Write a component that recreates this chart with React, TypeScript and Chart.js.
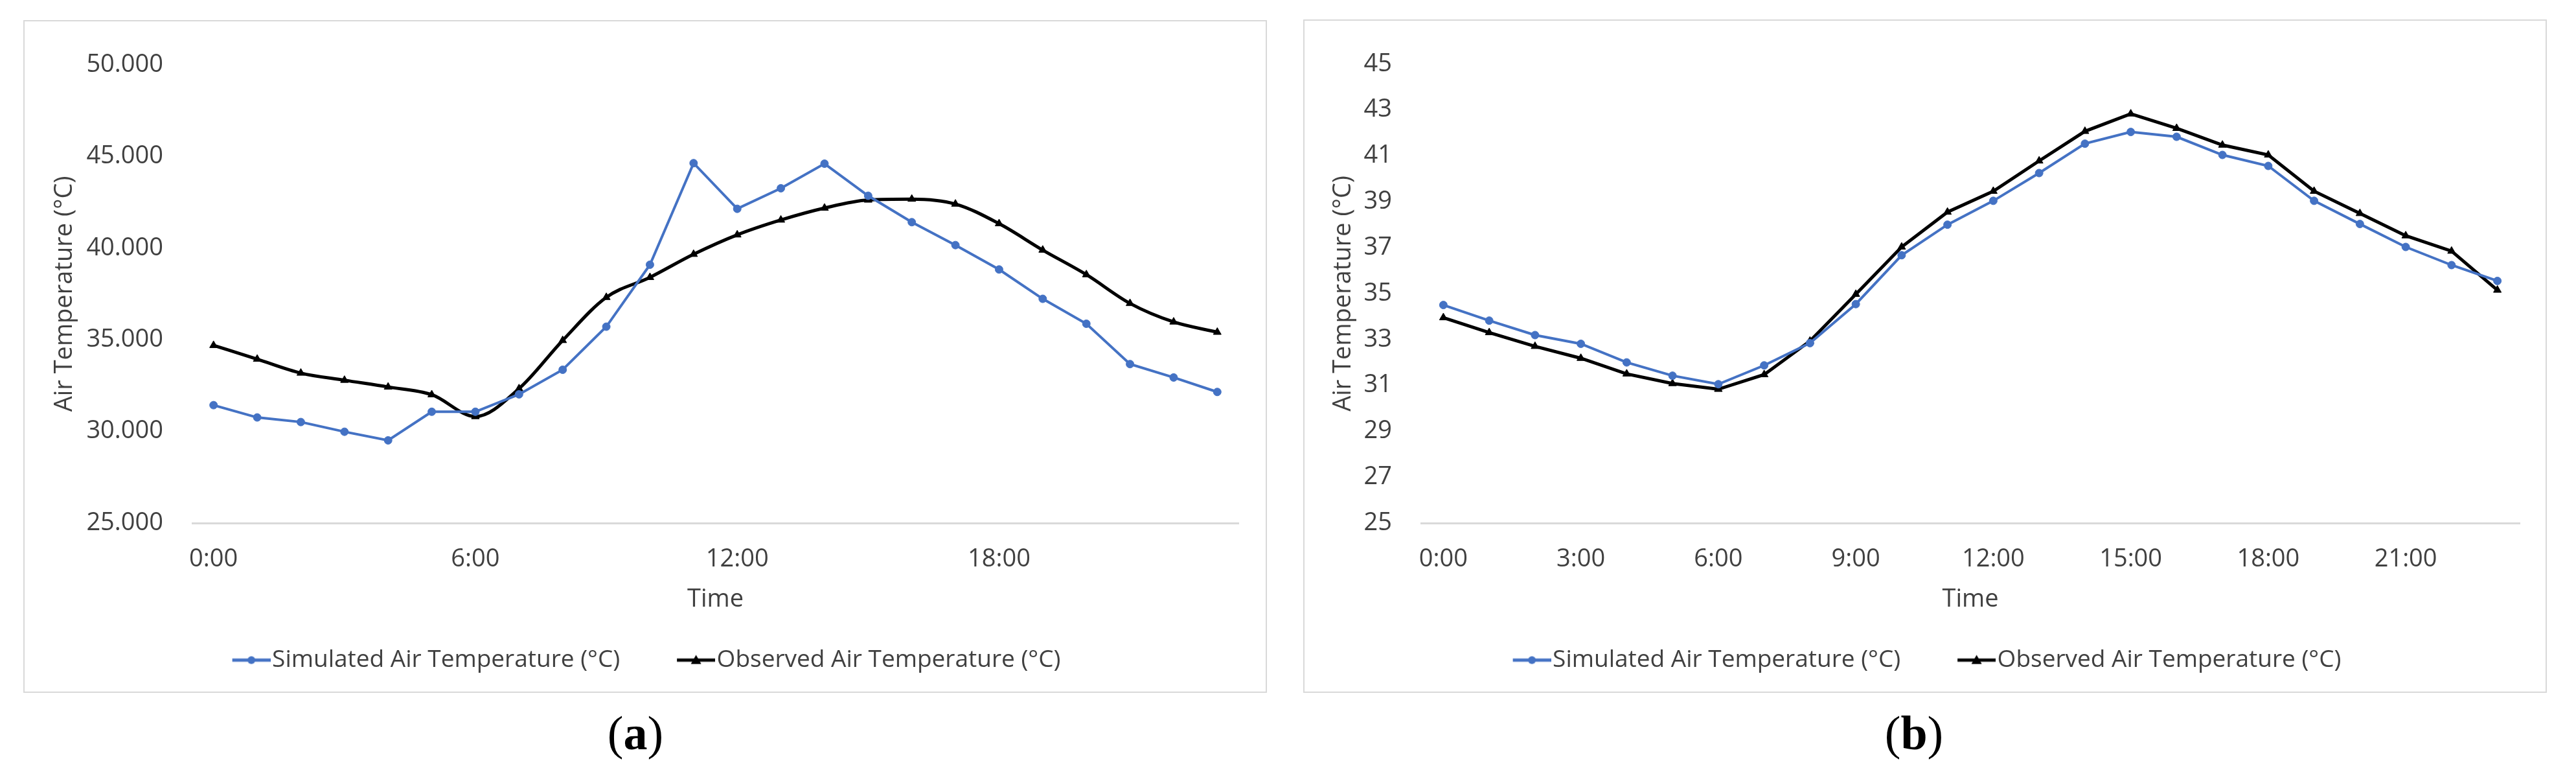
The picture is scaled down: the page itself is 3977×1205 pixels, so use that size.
import React, { useEffect, useRef } from 'react';
import { Chart, registerables } from 'chart.js';

Chart.register(...registerables);

// ---------- data ----------
const hours = [
  '0:00', '1:00', '2:00', '3:00', '4:00', '5:00', '6:00', '7:00', '8:00', '9:00', '10:00', '11:00',
  '12:00', '13:00', '14:00', '15:00', '16:00', '17:00', '18:00', '19:00', '20:00', '21:00', '22:00', '23:00',
];

const simulatedA = [31.43, 30.76, 30.51, 29.98, 29.51, 31.07, 31.07, 32.02, 33.36, 35.71, 39.09, 44.63,
  42.14, 43.26, 44.6, 42.85, 41.41, 40.16, 38.83, 37.23, 35.87, 33.67, 32.94, 32.15];
const observedA = [34.69, 33.94, 33.18, 32.79, 32.42, 32.0, 30.81, 32.33, 34.96, 37.31, 38.4, 39.66,
  40.72, 41.53, 42.18, 42.62, 42.67, 42.4, 41.33, 39.89, 38.55, 36.98, 35.97, 35.41];

const simulatedB = [34.5, 33.82, 33.19, 32.81, 32.0, 31.42, 31.05, 31.87, 32.84, 34.54, 36.67, 38.0,
  39.04, 40.25, 41.53, 42.04, 41.83, 41.04, 40.56, 39.04, 38.03, 37.03, 36.24, 35.55];
const observedB = [33.95, 33.3, 32.7, 32.18, 31.5, 31.08, 30.83, 31.47, 32.93, 34.97, 37.03, 38.55,
  39.46, 40.78, 42.07, 42.83, 42.2, 41.47, 41.04, 39.46, 38.49, 37.52, 36.85, 35.15];

const seriesNames = ['Simulated Air Temperature (°C)', 'Observed Air Temperature (°C)'];
const yAxisTitle = 'Air Temperature (°C)';
const xAxisTitle = 'Time';

const yRangeA = { min: 25, max: 50, step: 5, decimals: 3 };
const yRangeB = { min: 25, max: 45, step: 2, decimals: 0 };
const labelEveryA = 6;
const labelEveryB = 3;

// ---------- styling ----------
const BLUE = '#4472C4';
const BLACK = '#000000';
const TEXT = '#404040';
const GRID = '#d9d9d9';
const FONT = "'Open Sans', sans-serif";

// legend glyph: line + marker, drawn at the right end of a wider transparent image
function makeGlyph(color: string, marker: 'circle' | 'triangle'): HTMLCanvasElement {
  const c = document.createElement('canvas');
  c.width = 120;
  c.height = 20;
  const g = c.getContext('2d')!;
  const x0 = 61;
  g.strokeStyle = color;
  g.lineWidth = 5;
  g.beginPath();
  g.moveTo(x0, 10);
  g.lineTo(x0 + 59, 10);
  g.stroke();
  g.fillStyle = color;
  g.beginPath();
  const cx = x0 + 29.5;
  if (marker === 'circle') {
    g.arc(cx, 10, 6, 0, Math.PI * 2);
  } else {
    g.moveTo(cx, 2);
    g.lineTo(cx + 8, 16);
    g.lineTo(cx - 8, 16);
    g.closePath();
  }
  g.fill();
  return c;
}

interface PanelSpec {
  simulated: number[];
  observed: number[];
  yRange: { min: number; max: number; step: number; decimals: number };
  labelEvery: number;
  smoothObserved: boolean;
  width: number;
  height: number;
  yWidth: number;
  titlePad: number;
  padRight: number;
  padTop: number;
  padBottom: number;
}

function ChartPanel({ spec }: { spec: PanelSpec }) {
  const ref = useRef<HTMLCanvasElement | null>(null);
  useEffect(() => {
    if (!ref.current) return;
    const glyphs = [makeGlyph(BLUE, 'circle'), makeGlyph(BLACK, 'triangle')];
    const { yRange } = spec;
    const chart = new Chart(ref.current, {
      type: 'line',
      data: {
        labels: hours,
        datasets: [
          {
            label: seriesNames[0],
            data: spec.simulated,
            borderColor: BLUE,
            backgroundColor: BLUE,
            borderWidth: 4,
            pointStyle: 'circle',
            pointRadius: 6,
            pointBackgroundColor: BLUE,
            pointBorderColor: BLUE,
            pointBorderWidth: 1,
            tension: 0,
          },
          {
            label: seriesNames[1],
            data: spec.observed,
            borderColor: BLACK,
            backgroundColor: BLACK,
            borderWidth: 5,
            pointStyle: 'triangle',
            pointRadius: 7,
            pointBackgroundColor: BLACK,
            pointBorderColor: BLACK,
            pointBorderWidth: 1,
            cubicInterpolationMode: spec.smoothObserved ? 'monotone' : 'default',
            tension: spec.smoothObserved ? 0.4 : 0,
          },
        ],
      },
      options: {
        animation: false,
        responsive: false,
        devicePixelRatio: 1,
        layout: {
          padding: { left: 0, right: spec.padRight, top: spec.padTop, bottom: spec.padBottom },
        },
        plugins: {
          legend: {
            position: 'bottom',
            labels: {
              usePointStyle: true,
              pointStyleWidth: 88,
              boxWidth: 88,
              boxHeight: 20,
              padding: 43,
              color: TEXT,
              font: { family: FONT, size: 37 },
              generateLabels: (ch: any) => {
                const base = Chart.defaults.plugins.legend.labels.generateLabels(ch);
                return base.map((item: any, i: number) => ({ ...item, pointStyle: glyphs[i] }));
              },
            },
          },
          tooltip: { enabled: false },
        },
        scales: {
          x: {
            type: 'category',
            offset: true,
            grid: { display: false, drawTicks: false },
            border: { display: false },
            ticks: {
              autoSkip: false,
              maxRotation: 0,
              minRotation: 0,
              padding: 33,
              color: TEXT,
              font: { family: FONT, size: 38 },
              callback: function (this: any, value: any, index: number) {
                return index % spec.labelEvery === 0 ? this.getLabelForValue(value) : '';
              },
            },
            title: {
              display: true,
              text: xAxisTitle,
              color: TEXT,
              font: { family: FONT, size: 38 },
              padding: { top: 0, bottom: 9 },
            },
            afterFit: (scale: any) => {
              scale.height = 150;
            },
          },
          y: {
            type: 'linear',
            min: yRange.min,
            max: yRange.max,
            grid: {
              drawTicks: false,
              lineWidth: 3,
              color: (ctx: any) => (ctx.tick && ctx.tick.value === yRange.min ? GRID : 'rgba(0,0,0,0)'),
            },
            border: { display: false },
            ticks: {
              stepSize: yRange.step,
              padding: 44,
              color: TEXT,
              font: { family: FONT, size: 38 },
              callback: (v: any) => Number(v).toFixed(yRange.decimals),
            },
            title: {
              display: true,
              text: yAxisTitle,
              color: TEXT,
              font: { family: FONT, size: 38 },
              padding: { top: spec.titlePad, bottom: 0 },
            },
            afterFit: (scale: any) => {
              scale.width = spec.yWidth;
            },
          },
        },
      },
    } as any);
    return () => chart.destroy();
  }, [spec]);
  return <canvas ref={ref} width={spec.width} height={spec.height} style={{ display: 'block' }} />;
}

const specA: PanelSpec = {
  simulated: simulatedA,
  observed: observedA,
  yRange: yRangeA,
  labelEvery: labelEveryA,
  smoothObserved: true,
  width: 1916,
  height: 1034,
  yWidth: 258,
  titlePad: 39,
  padRight: 41,
  padTop: 38,
  padBottom: 20,
};

const specB: PanelSpec = {
  simulated: simulatedB,
  observed: observedB,
  yRange: yRangeB,
  labelEvery: labelEveryB,
  smoothObserved: false,
  width: 1916,
  height: 1035,
  yWidth: 179,
  titlePad: 37,
  padRight: 39,
  padTop: 39,
  padBottom: 20,
};

const panelStyle = (left: number, top: number, height: number): React.CSSProperties => ({
  position: 'absolute',
  left,
  top,
  width: 1920,
  height,
  border: `2px solid ${GRID}`,
  boxSizing: 'border-box',
  background: '#fff',
});

const captionStyle = (cx: number): React.CSSProperties => ({
  position: 'absolute',
  left: cx - 100,
  width: 200,
  top: 1091,
  textAlign: 'center',
  fontFamily: "'Liberation Serif', 'Times New Roman', serif",
  fontSize: 74,
  lineHeight: '80px',
  color: '#000',
});

export default function App() {
  return (
    <div style={{ position: 'absolute', left: 0, top: 0, width: 3977, height: 1205, background: '#fff', overflow: 'hidden' }}>
      <div style={panelStyle(36, 31, 1038)}>
        <ChartPanel spec={specA} />
      </div>
      <div style={panelStyle(2012, 30, 1039)}>
        <ChartPanel spec={specB} />
      </div>
      <div style={captionStyle(981)}>
        (<b>a</b>)
      </div>
      <div style={captionStyle(2955)}>
        (<b>b</b>)
      </div>
    </div>
  );
}
